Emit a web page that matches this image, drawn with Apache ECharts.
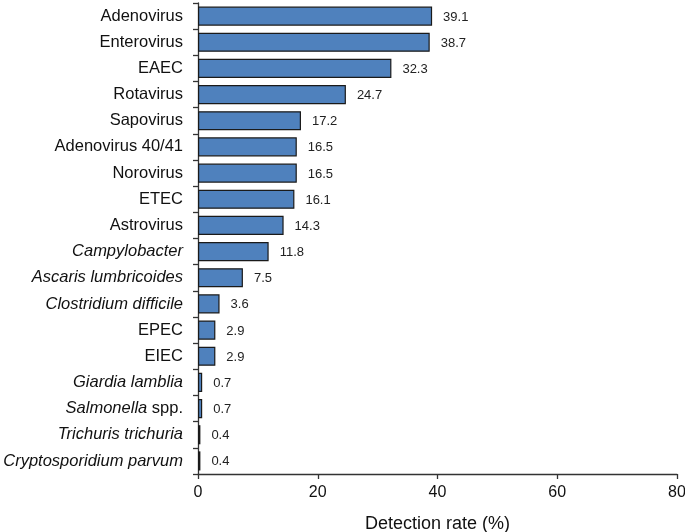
<!DOCTYPE html>
<html>
<head>
<meta charset="utf-8">
<script src="https://cdn.jsdelivr.net/npm/echarts@6/dist/echarts.min.js"></script>
<style>html,body{margin:0;padding:0;background:#fff}#c{width:685px;height:532px}</style>
</head>
<body>
<div id="c"></div>
<script>
var categories = ["Adenovirus","Enterovirus","EAEC","Rotavirus","Sapovirus","Adenovirus 40/41","Norovirus","ETEC","Astrovirus","Campylobacter","Ascaris lumbricoides","Clostridium difficile","EPEC","EIEC","Giardia lamblia","Salmonella spp.","Trichuris trichuria","Cryptosporidium parvum"];
var values = [39.1,38.7,32.3,24.7,17.2,16.5,16.5,16.1,14.3,11.8,7.5,3.6,2.9,2.9,0.7,0.7,0.4,0.4];
var italicNames = ["Campylobacter","Ascaris lumbricoides","Clostridium difficile","Giardia lamblia","Trichuris trichuria","Cryptosporidium parvum"];
var xTicks = [0,20,40,60,80];

var chart = echarts.init(document.getElementById('c'));
var font = 'Liberation Sans, Arial, sans-serif';
chart.setOption({
  animation: false,
  grid: {left: 198, right: 8, top: 3, bottom: 58, containLabel: false, outerBoundsMode: 'none'},
  xAxis: {
    type: 'value', min: xTicks[0], max: xTicks[xTicks.length-1], interval: 20,
    name: 'Detection rate (%)', nameLocation: 'middle', nameGap: 41,
    nameTextStyle: {fontFamily: font, fontSize: 18, color: '#111'},
    axisLine: {show: true, lineStyle: {color: '#333', width: 1.3}},
    axisTick: {show: true, length: 5, lineStyle: {color: '#333', width: 1.3}},
    axisLabel: {fontFamily: font, fontSize: 16, color: '#111', margin: 11},
    splitLine: {show: false}
  },
  yAxis: {
    type: 'category', data: categories, inverse: true,
    axisLine: {show: true, lineStyle: {color: '#333', width: 1.3}},
    axisTick: {show: true, length: 5, alignWithLabel: false, lineStyle: {color: '#333', width: 1.3}},
    axisLabel: {
      fontFamily: font, fontSize: 16.5, color: '#111', margin: 15,
      formatter: function (v) {
        if (v === 'Salmonella spp.') return '{i|Salmonella} spp.';
        if (italicNames.indexOf(v) >= 0) return '{i|' + v + '}';
        return v;
      },
      rich: {i: {fontStyle: 'italic', fontFamily: font, fontSize: 16.5, color: '#111'}}
    }
  },
  series: [{
    type: 'bar', data: values, barCategoryGap: '27%',
    itemStyle: {color: '#4f81bd', borderColor: '#1a1a1a', borderWidth: 1.2},
    label: {show: true, position: 'right', distance: 11, fontFamily: font, fontSize: 13, color: '#222', offset: [0, 1]}
  }]
});
</script>
</body>
</html>
